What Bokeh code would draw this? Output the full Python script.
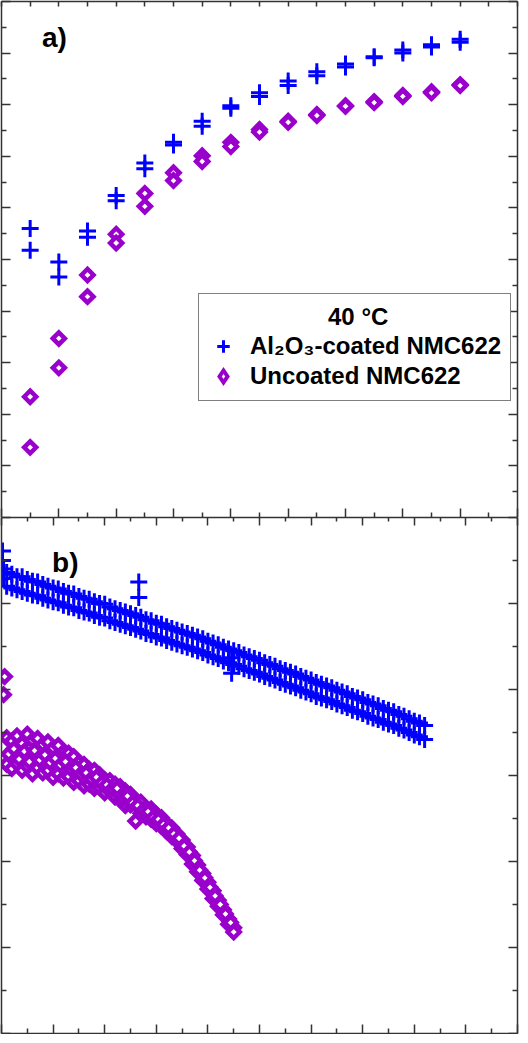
import numpy as np
from bokeh.plotting import figure
from bokeh.models import (Range1d, LinearAxis, FixedTicker, Label, Legend,
                          LegendItem, CustomJSTickFormatter)
from bokeh.layouts import column
from bokeh.embed import file_html
from bokeh.resources import INLINE

BLUE = "#0000FF"
PURPLE = "#9900CC"
AXC = "#333333"
FONT = "Liberation Sans"

# ---------------- panel a data ----------------
a_x = [1, 2, 3, 4, 5, 6, 7, 8, 9, 10, 11, 12, 13, 14, 15, 16]
a_coated_1 = [56.0, 49.5, 55.5, 62.4, 68.7, 72.7, 76.8, 79.8, 82.3, 84.6, 86.4, 87.9, 89.3, 90.6, 91.6, 92.7]
a_coated_2 = [51.8, 46.6, 54.3, 61.4, 67.6, 72.2, 75.8, 79.3, 81.6, 83.7, 85.6, 87.3, 89.1, 90.0, 91.2, 92.1]
a_uncoated_1 = [23.4, 34.7, 47.0, 54.9, 62.8, 66.8, 70.1, 72.7, 75.2, 76.8, 78.1, 79.8, 80.6, 81.8, 82.5, 83.9]
a_uncoated_2 = [13.6, 29.0, 42.8, 53.2, 60.3, 65.3, 69.0, 71.9, 74.7, 76.6, 77.9, 79.7, 80.4, 81.6, 82.3, 83.7]
a_x_major = [0, 2, 4, 6, 8, 10, 12, 14, 16, 18]
a_x_minor = [1, 3, 5, 7, 9, 11, 13, 15, 17]
a_x_top = list(range(0, 19))
a_y_major = [0, 10, 20, 30, 40, 50, 60, 70, 80, 90, 100]
a_y_minor = [5, 15, 25, 35, 45, 55, 65, 75, 85, 95]

# ---------------- panel b data ----------------
b_cyc = [1, 2, 5] + list(range(10, 415, 5))
b_coated_1 = [96.1, 94.0, 93.6,
              93.4, 93.1, 93.1, 92.8, 92.6, 92.5, 92.2, 92.0, 91.8,
              91.7, 91.4, 91.2, 91.1, 90.8, 90.6, 90.5, 90.2,
              90.0, 89.9, 89.6, 89.4, 89.2, 89.0, 88.8, 88.6, 88.4, 88.1, 88.0, 87.7,
              87.6, 87.3, 87.1, 86.9, 86.7, 86.5, 86.3,
              86.1, 85.9, 85.6, 85.4, 85.2, 84.9, 84.7, 84.5, 84.3, 84.0,
              83.8, 83.6, 83.4, 83.1, 82.9, 82.7, 82.4, 82.2, 82.0, 81.8, 81.5, 81.3, 81.1,
              80.8, 80.6, 80.4, 80.2, 79.9, 79.7, 79.5, 79.2, 79.0, 78.8, 78.5, 78.3, 78.1,
              77.8, 77.6, 77.4,
              77.1, 76.9, 76.6, 76.3, 76.1, 75.8]
b_coated_2 = [95.0, 92.9, 92.0,
              91.8, 91.6, 91.4, 91.2, 91.0, 90.9, 90.6, 90.4, 90.2,
              90.1, 89.8, 89.6, 89.5, 89.2, 89.0, 88.9, 88.6,
              88.4, 88.3, 88.0, 87.8, 87.6, 87.4, 87.2, 87.0, 86.8, 86.5, 86.4, 86.1,
              86.0, 85.7, 85.5, 85.3, 85.1, 84.9, 84.7,
              84.5, 84.3, 84.0, 83.8, 83.6, 83.3, 83.1, 82.9, 82.7, 82.4,
              82.2, 82.0, 81.8, 81.5, 81.3, 81.1, 80.8, 80.6, 80.4, 80.2, 79.9, 79.7, 79.5,
              79.2, 79.0, 78.8, 78.6, 78.3, 78.1, 77.9, 77.6, 77.4, 77.2, 76.9, 76.7, 76.5,
              76.2, 76.0, 75.8,
              75.5, 75.3, 75.0, 74.7, 74.5, 74.2]
b_coated_extra_cyc = [133, 133, 223, 223]
b_coated_extra = [92.5, 90.7, 83.7, 81.9]

b_unc_first_cyc = [2, 3]
b_unc_first = [79.4, 81.5]
b_unc_cyc = list(range(5, 230, 5))
b_uncoated_1 = [74.4, 74.0, 74.6, 73.7, 74.8, 74.1, 74.3, 73.6, 73.9, 73.2,
                73.5, 72.7, 72.6, 72.2, 71.5, 71.3, 70.7, 70.6, 70.1, 69.5,
                69.4, 69.0, 68.7, 68.2, 67.8, 67.1, 66.9, 66.2, 66.1, 65.5,
                65.1, 64.4, 63.9, 63.2, 62.5, 61.7, 60.7, 59.6, 58.6, 57.6,
                56.6, 55.5, 54.4, 53.3, 52.3]
b_uncoated_2 = [71.3, 70.8, 71.4, 70.6, 71.1, 70.2, 70.9, 70.3, 70.6, 69.8,
                70.2, 69.7, 69.9, 69.2, 69.4, 68.8, 69.0, 68.5, 68.6, 68.0,
                68.2, 67.5, 67.2, 66.5, 66.6, 64.7, 65.6, 65.2, 64.9, 64.4,
                64.1, 63.5, 62.9, 62.4, 61.5, 60.8, 59.7, 58.8, 57.8, 56.8,
                55.7, 54.8, 53.8, 52.7, 51.8]
b_unc_cyc_mid = list(range(7, 225, 5))
b_uncoated_3 = [72.5, 73.1, 71.9, 72.8, 71.6, 72.9, 71.8, 72.4, 71.5, 72.0,
                71.2, 71.6, 70.8, 70.9, 70.2, 70.3, 69.6, 69.8, 69.1, 68.9,
                68.4, 68.5, 67.6, 67.6, 66.8, 66.5, 65.9, 65.8, 65.1, 64.9,
                64.3, 63.9, 63.2, 62.7, 61.8, 61.1, 60.1, 59.0, 58.1, 57.0,
                56.0, 55.0, 53.9, 52.9]
b_x_major = [0, 50, 100, 150, 200, 250, 300, 350, 400, 450, 500]
b_x_minor = [25, 75, 125, 175, 225, 275, 325, 375, 425, 475]
b_y_major = [40, 50, 60, 70, 80, 90, 100]
b_y_minor = [45, 55, 65, 75, 85, 95]

label_coated = "Al\u2082O\u2083-coated NMC622"
label_uncoated = "Uncoated NMC622"
legend_title = "40 \u00b0C"


def style_axis(ax, major_in, minor_in):
    ax.major_tick_in = major_in
    ax.major_tick_out = 0
    ax.minor_tick_in = minor_in
    ax.minor_tick_out = 0
    ax.major_label_text_font_size = "0px"
    ax.major_label_standoff = 0
    ax.formatter = CustomJSTickFormatter(code="return ''")
    ax.axis_line_color = AXC
    ax.axis_line_width = 1.5
    ax.major_tick_line_color = AXC
    ax.minor_tick_line_color = AXC
    ax.major_tick_line_width = 1.5
    ax.minor_tick_line_width = 1.5


def make_fig(xr, yr, top, bottom):
    p = figure(frame_width=516, frame_height=516, x_range=xr, y_range=yr,
               output_backend="svg", toolbar_location=None,
               min_border_left=1, min_border_right=2,
               min_border_top=top, min_border_bottom=bottom)
    p.grid.visible = False
    p.outline_line_color = None
    p.background_fill_color = "white"
    p.border_fill_color = "white"
    return p


def diamonds(p, xs, ys):
    return p.scatter(xs, ys, marker="square", angle=np.pi / 4, size=8.5,
                     line_color=PURPLE, line_width=4.5, line_join="miter",
                     fill_color="white")


def crosses(p, xs, ys):
    return p.scatter(xs, ys, marker="cross", size=17, line_color=BLUE, line_width=3)


# ---------------- panel a ----------------
pa = make_fig(Range1d(0, 18), Range1d(0, 100), 1, 0)
pa.xaxis.ticker = FixedTicker(ticks=a_x_major, minor_ticks=a_x_minor)
pa.yaxis.ticker = FixedTicker(ticks=a_y_major, minor_ticks=a_y_minor)
style_axis(pa.xaxis[0], 9, 5)
style_axis(pa.yaxis[0], 9, 5)
ax_top = LinearAxis(ticker=FixedTicker(ticks=a_x_top))
style_axis(ax_top, 5, 0)
pa.add_layout(ax_top, "above")
ax_right = LinearAxis(ticker=FixedTicker(ticks=a_y_major, minor_ticks=a_y_minor))
style_axis(ax_right, 9, 5)
pa.add_layout(ax_right, "right")

rb1 = crosses(pa, a_x, a_coated_1)
rb2 = crosses(pa, a_x, a_coated_2)
rp1 = diamonds(pa, a_x, a_uncoated_1)
rp2 = diamonds(pa, a_x, a_uncoated_2)
# legend key only (legend swatches are drawn unrotated); NaN point draws nothing on the plot
rp_key = pa.scatter([float("nan")], [float("nan")], marker="diamond", size=12,
                    line_color=PURPLE, line_width=4, line_join="miter", fill_color="white")

legend = Legend(items=[LegendItem(label=label_coated, renderers=[rb1, rb2]),
                       LegendItem(label=label_uncoated, renderers=[rp_key])],
                location=(197, 116),
                title="\u00a0" * 18 + legend_title,
                title_text_font=FONT, title_text_font_style="bold",
                title_text_font_size="24px", title_standoff=0,
                title_text_color="black",
                label_text_font=FONT, label_text_font_style="bold",
                label_text_font_size="24px", label_text_color="black",
                border_line_color="black", border_line_width=1.5,
                background_fill_color="white", background_fill_alpha=1,
                padding=9, spacing=0, margin=0, label_standoff=12,
                glyph_width=30, glyph_height=30, label_height=30)
pa.add_layout(legend)

pa.add_layout(Label(x=1.41, y=93.1, text="a)", text_font=FONT, text_font_style="bold",
                    text_font_size="28px", text_color="black",
                    text_baseline="alphabetic", text_align="left"))

# ---------------- panel b ----------------
pb = make_fig(Range1d(0, 500), Range1d(40, 100), 0, 1)
pb.xaxis.ticker = FixedTicker(ticks=b_x_major, minor_ticks=b_x_minor)
pb.yaxis.ticker = FixedTicker(ticks=b_y_major, minor_ticks=b_y_minor)
style_axis(pb.xaxis[0], 9, 5)
style_axis(pb.yaxis[0], 9, 5)
bx_top = LinearAxis(ticker=FixedTicker(ticks=b_x_major, minor_ticks=b_x_minor))
style_axis(bx_top, 8, 4)
pb.add_layout(bx_top, "above")
by_right = LinearAxis(ticker=FixedTicker(ticks=b_y_major, minor_ticks=b_y_minor))
style_axis(by_right, 9, 5)
pb.add_layout(by_right, "right")

crosses(pb, b_cyc, b_coated_1)
crosses(pb, b_cyc, b_coated_2)
crosses(pb, b_coated_extra_cyc, b_coated_extra)

diamonds(pb, b_unc_first_cyc, b_unc_first)
diamonds(pb, b_unc_cyc, b_uncoated_1)
diamonds(pb, b_unc_cyc, b_uncoated_2)
diamonds(pb, b_unc_cyc_mid, b_uncoated_3)

pb.add_layout(Label(x=49, y=94.8, text="b)", text_font=FONT, text_font_style="bold",
                    text_font_size="28px", text_color="black",
                    text_baseline="alphabetic", text_align="left"))

layout = column(pa, pb, spacing=0)
open("out.html", "w").write(file_html(layout, INLINE))
